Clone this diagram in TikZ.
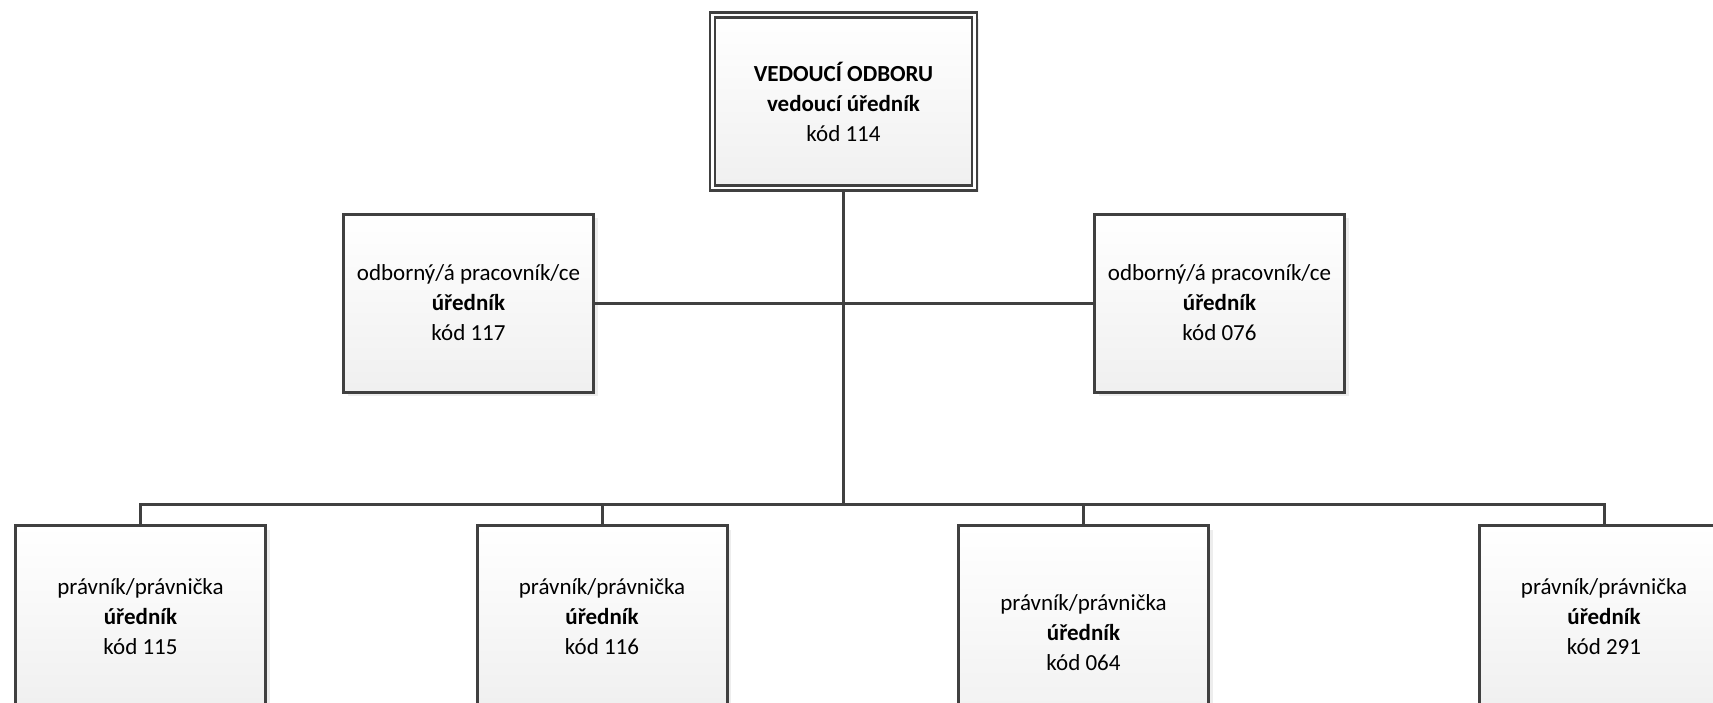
\documentclass[tikz,border=0pt]{standalone}
\usepackage{fontspec}
\setmainfont{Carlito}
\usetikzlibrary{shadows}
\definecolor{linegray}{HTML}{404040}
\tikzset{
	unit/.style={draw=linegray, line width=3pt, rectangle, align=center,
		top color=white, bottom color=black!6,
		drop shadow={shadow xshift=4pt, shadow yshift=-4pt, fill=black!14},
		minimum width=250pt, font=\fontsize{23}{30}\selectfont},
	headunit/.style={unit, double=white, double distance=2.5pt, line width=2.5pt,
		minimum width=262pt, minimum height=173pt},
	link/.style={draw=linegray, line width=3pt}
}
\begin{document}
\begin{tikzpicture}[x=1pt, y=-1pt]
			%%%%% START %%%%%
			
			\useasboundingbox (0, 0) rectangle (1713, 702);
			\clip (0, 0) rectangle (1713, 702);
			
			\node[headunit] (head) at (843.5, 101.5) {\textbf{VEDOUCÍ ODBORU}\\\textbf{vedoucí úředník}\\kód 114};
			
			\node[unit, minimum height=178pt] (left) at (468.5, 303) {odborný/á pracovník/ce\\\textbf{úředník}\\kód 117};
			\node[unit, minimum height=178pt] (right) at (1219.5, 303) {odborný/á pracovník/ce\\\textbf{úředník}\\kód 076};
			
			\node[unit, anchor=north, minimum height=182pt] (p115) at (140.5, 524) {právník/právnička\\\textbf{úředník}\\kód 115};
			\node[unit, anchor=north, minimum height=182pt] (p116) at (602, 524) {právník/právnička\\\textbf{úředník}\\kód 116};
			\node[unit, anchor=north, minimum height=214pt] (p064) at (1083.5, 524) {právník/právnička\\\textbf{úředník}\\kód 064};
			\node[unit, anchor=north, minimum height=182pt] (p291) at (1604, 524) {právník/právnička\\\textbf{úředník}\\kód 291};
			
			\coordinate (bus) at (843.5, 504);
			
			\draw[link] (head.south) -- (bus);
			\draw[link] (left.east) -- (right.west);
			\draw[link] (p115.north) |- (bus);
			\draw[link] (p116.north) |- (bus);
			\draw[link] (p064.north) |- (bus);
			\draw[link] (p291.north) |- (bus);
			
			%%%%% END %%%%%
\end{tikzpicture}
\end{document}
